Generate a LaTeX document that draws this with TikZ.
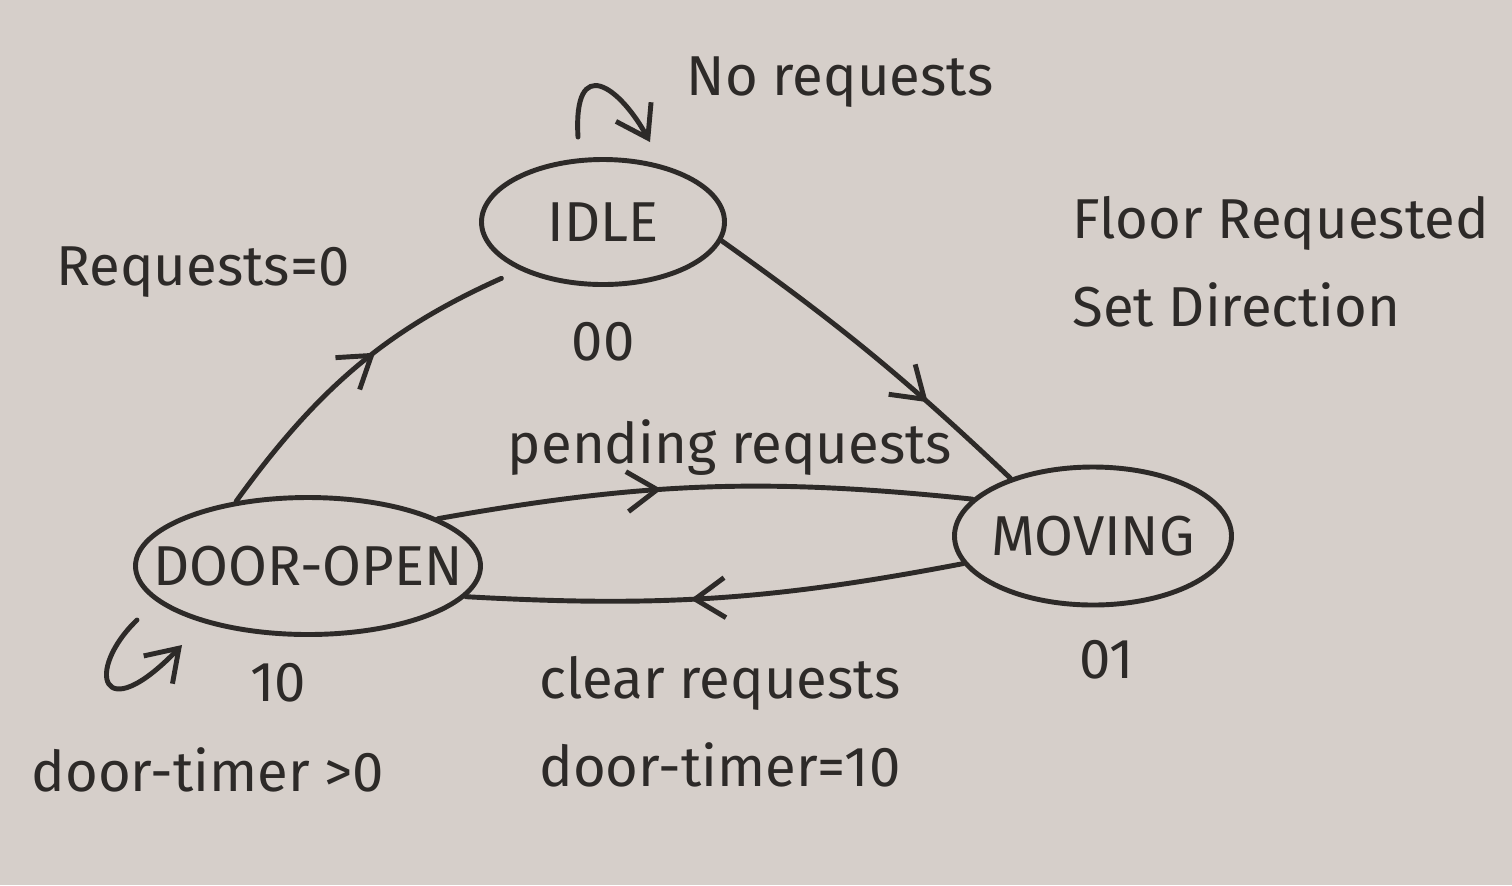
\documentclass[tikz,border=0pt]{standalone}
\usepackage{fontspec}
\setmainfont{Fira Sans}
\definecolor{paper}{RGB}{214,207,202}
\definecolor{ink}{RGB}{45,42,40}
\usetikzlibrary{arrows.meta, positioning, shapes.geometric, decorations.markings}

\begin{document}
\begin{tikzpicture}[
    every node/.style={text=ink, font=\fontsize{16}{25}\selectfont},
    state/.style={draw=ink, ellipse, line width=1.4pt, inner sep=0pt},
    trans/.style={draw=ink, line width=1.4pt, line cap=round},
    midarrow/.style={postaction={decorate}, decoration={markings,
        mark=at position #1 with {\arrow[line width=1.4pt]{Straight Barb[length=3mm, width=4mm]}}}}
  ]
        % Paper
        \fill[paper] (0,0) rectangle (15.12,-8.85);
        \useasboundingbox (0,0) rectangle (15.12,-8.85);
        % States
        \node[state, minimum width=2.43cm, minimum height=1.25cm] (idle) at (6.03,-2.22) {IDLE};
        \node[state, inner xsep=-3.5mm, minimum width=3.45cm, minimum height=1.37cm] (door) at (3.08,-5.66) {DOOR-OPEN};
        \node[state, inner xsep=-1.5mm, minimum width=2.77cm, minimum height=1.38cm] (moving) at (10.93,-5.36) {MOVING};
        % Encodings
        \node (idlecode) at (6.03,-3.42) {00};
        \node (doorcode) at (2.78,-6.83) {10};
        \node (movingcode) at (11.07,-6.6) {01};
        % Transitions
        \draw[trans, midarrow=0.55, shorten >=2mm] (door.138) to[bend left=15] (idle.210);
        \draw[trans, midarrow=0.7] (idle.-9) to[bend left=4] (moving.145);
        \draw[trans, midarrow=0.42] (door.20) to[bend left=8] (moving.163);
        \draw[trans, midarrow=0.55] (moving.192) to[bend left=7] (door.-11);
        % Self loops
        \coordinate (idleloopa) at ([shift={(-0.25,0.2)}]idle.north);
        \coordinate (idleloopb) at ([shift={(0.47,0.15)}]idle.north);
        \draw[trans, -{Straight Barb[length=3mm, width=4mm]}] (idleloopa) .. controls +(-0.05,0.85) and +(-0.3,0.55) .. (idleloopb);
        \coordinate (doorloopa) at (1.37,-6.2);
        \coordinate (doorloopb) at (1.82,-6.45);
        \draw[trans, -{Straight Barb[length=3mm, width=4mm]}] (doorloopa) .. controls (0.85,-6.7) and (1.0,-7.3) .. (doorloopb);
        % Labels
        \node (norequests) at (8.4,-0.82) {No requests};
        \node (requestszero) at (2.03,-2.72) {Requests=0};
        \node[align=left, anchor=west] (floorreq) at (10.6,-2.62) {Floor Requested\\Set Direction};
        \node (pending) at (7.3,-4.48) {pending requests};
        \node[align=center] (clear) at (7.2,-7.22) {clear requests\\door-timer=10};
        \node (doortimer) at (2.08,-7.7) {door-timer >0};
      \end{tikzpicture}
\end{document}
